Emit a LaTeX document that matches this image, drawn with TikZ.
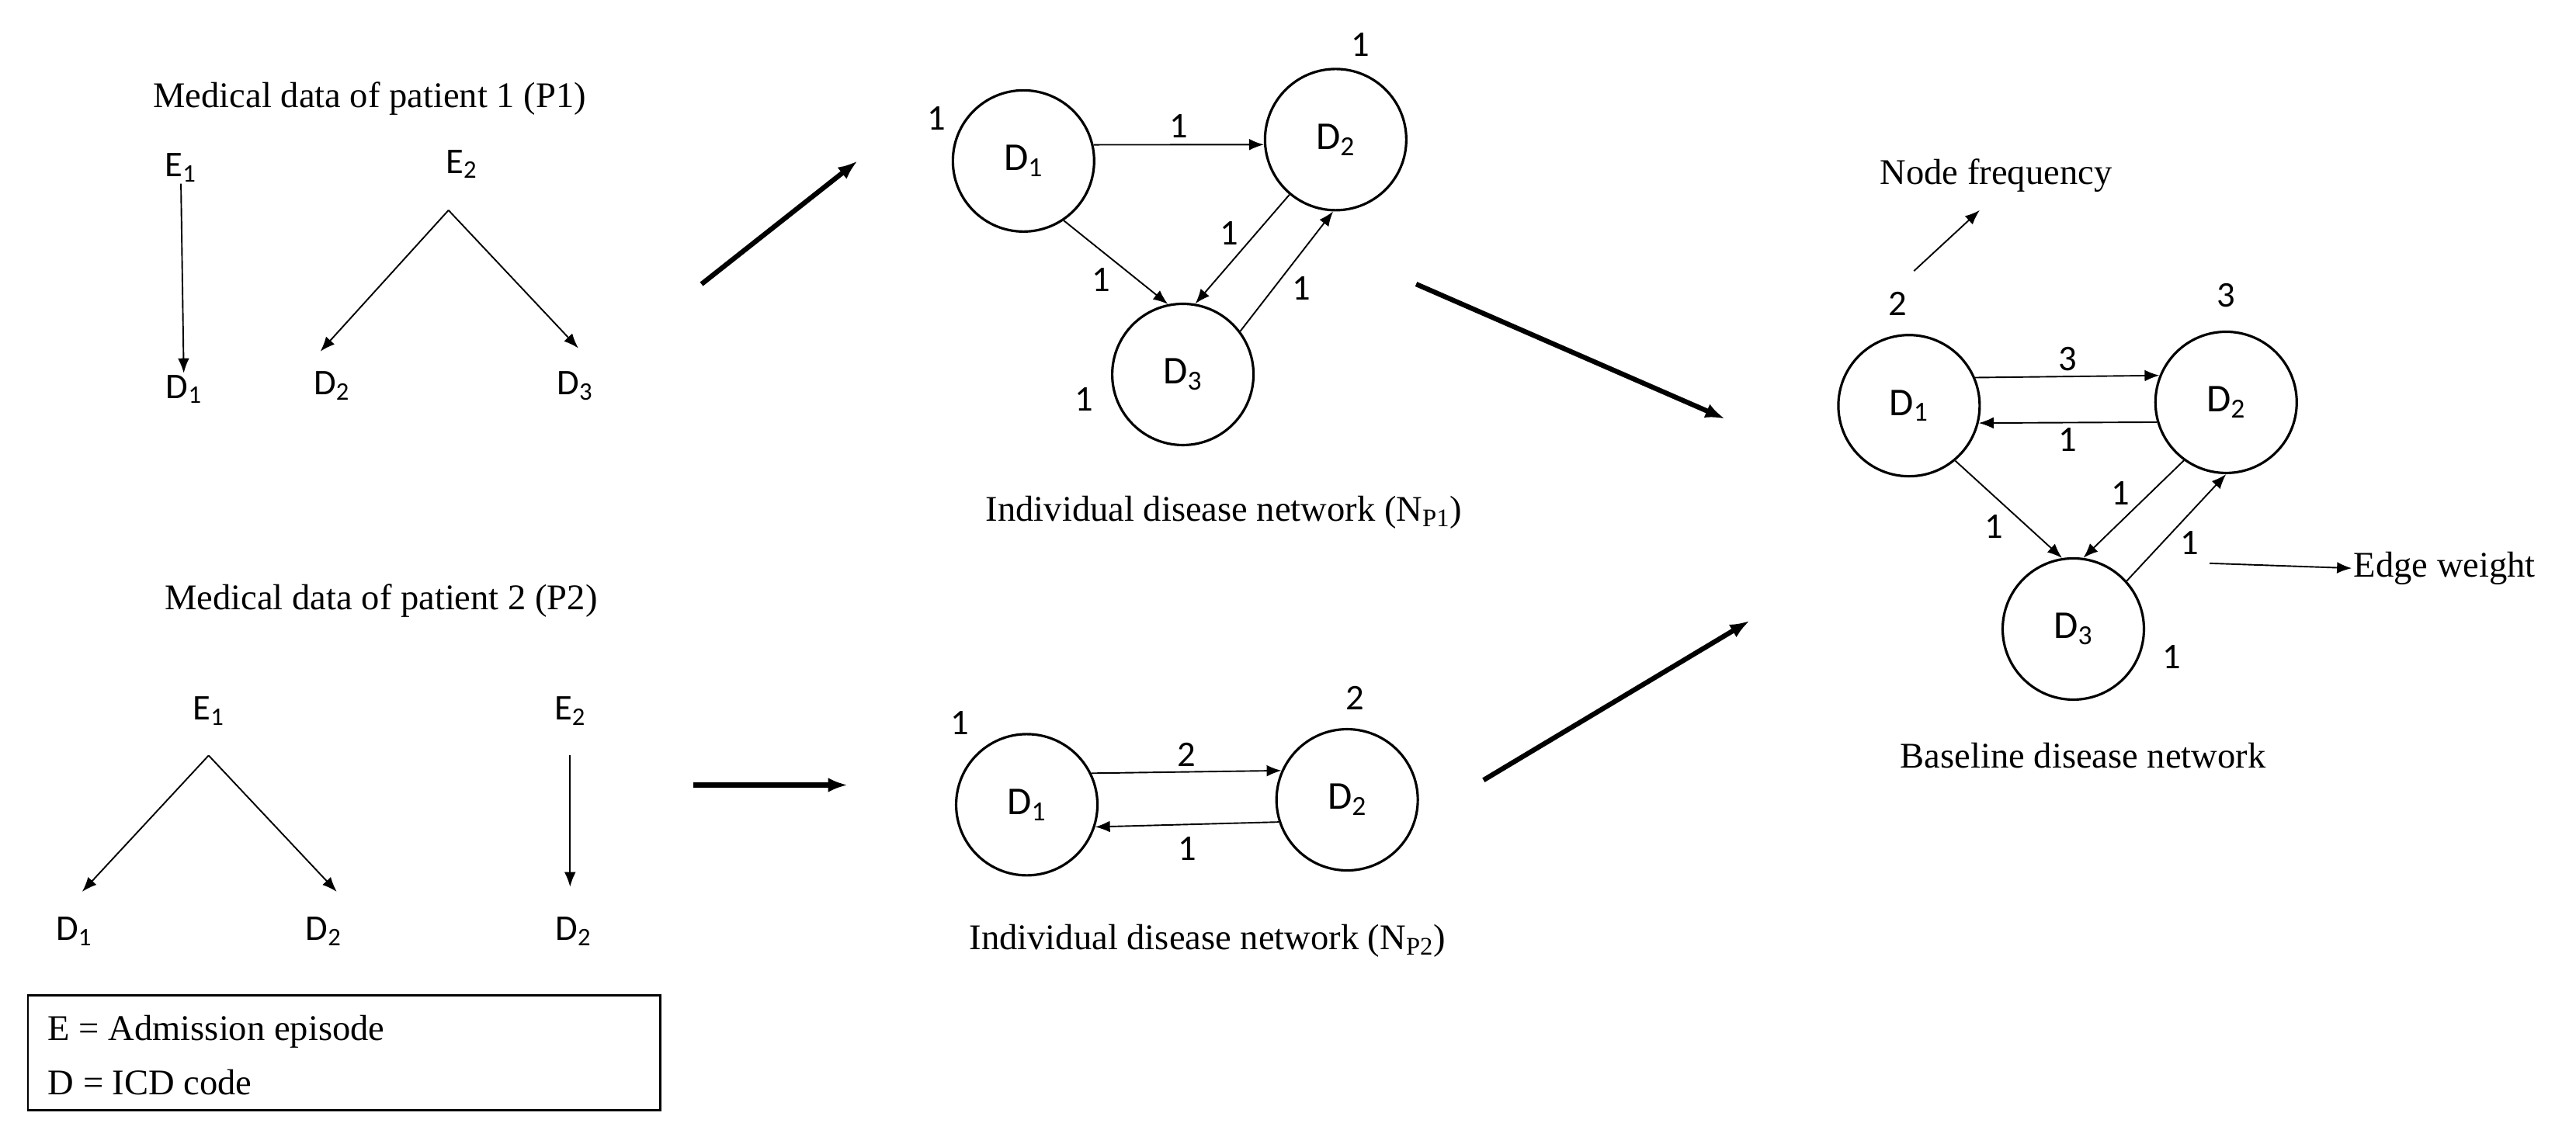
\documentclass[tikz,border=0pt]{standalone}
\usepackage{fontspec}
\setmainfont{Liberation Serif}
\newfontfamily\sansf{Carlito}
\usetikzlibrary{arrows.meta}
\tikzset{
  dis/.style={circle, draw=black, line width=1.5pt, minimum size=86pt, inner sep=0pt, font=\sansf\fontsize{24}{26}\selectfont},
  lbl/.style={font=\sansf\fontsize{22}{24}\selectfont, inner sep=1pt},
  ttl/.style={font=\fontsize{22}{24}\selectfont, inner sep=1pt},
  edg/.style={-{Latex[length=9pt,width=7pt]}, line width=0.9pt},
  big/.style={-{Latex[length=12pt,width=9pt]}, line width=3pt},
}
\begin{document}
\begin{tikzpicture}[x=1pt,y=-1pt]
	\useasboundingbox (0,0) rectangle (1568,688);
	% patient 1
	\node[ttl](t1) at (225,60){Medical data of patient 1 (P1)};
	\node[lbl](p1e1) at (110,102){E\textsubscript{1}};
	\node[lbl](p1d1) at (112,237){D\textsubscript{1}};
	\node[lbl](p1e2) at (281,100){E\textsubscript{2}};
	\coordinate(p1top) at (273,128);
	\node[lbl](p1d2) at (202,235){D\textsubscript{2}};
	\node[lbl](p1d3) at (350,235){D\textsubscript{3}};
	\draw[edg] (p1e1) -- (p1d1);
	\draw[edg] (p1top) -- (195,214);
	\draw[edg] (p1top) -- (352,212);
	% patient 2
	\node[ttl](t2) at (232,366){Medical data of patient 2 (P2)};
	\node[lbl](p2e1) at (127,433){E\textsubscript{1}};
	\coordinate(p2top) at (127,460);
	\node[lbl](p2d1) at (45,567){D\textsubscript{1}};
	\node[lbl](p2d2) at (197,567){D\textsubscript{2}};
	\node[lbl](p2e2) at (347,433){E\textsubscript{2}};
	\node[lbl](p2d3) at (349,567){D\textsubscript{2}};
	\draw[edg] (p2top) -- (50,543);
	\draw[edg] (p2top) -- (205,543);
	\draw[edg] (347,460) -- (347,540);
	% legend
	\node[draw=black, line width=1.2pt, minimum width=385pt, minimum height=70pt](leg) at (209.5,641){};
	\node[ttl, anchor=west](le) at (28,628){E = Admission episode};
	\node[ttl, anchor=west](ld) at (28,659){D = ICD code};
	% network of P1
	\node[dis](n1a) at (623,98){D\textsubscript{1}};
	\node[dis](n1b) at (813,85){D\textsubscript{2}};
	\node[dis](n1c) at (720,228){D\textsubscript{3}};
	\node[lbl] at (570,72){1};
	\node[lbl] at (828,27){1};
	\node[lbl] at (660,243){1};
	\draw[edg] (n1a.13) -- node[lbl, above=3pt]{1} (n1b.184);
	\draw[edg] (n1a.-56) -- node[lbl, below left=2pt]{1} (n1c.102);
	\draw[edg] (n1b.-130) -- node[lbl, above left=1pt]{1} (n1c.80);
	\draw[edg] (n1c.37) -- node[lbl, below right=2pt]{1} (n1b.-92);
	\node[ttl](t3) at (745,312){Individual disease network (N\textsubscript{P1})};
	% network of P2
	\node[dis](n2a) at (625,490){D\textsubscript{1}};
	\node[dis](n2b) at (820,487){D\textsubscript{2}};
	\node[lbl] at (584,440){1};
	\node[lbl] at (825,425){2};
	\draw[edg] (n2a.26) -- node[lbl, above=2pt]{2} (n2b.156);
	\draw[edg] (n2b.198) -- node[lbl, below=6pt]{1} (n2a.-18);
	\node[ttl](t4) at (735,573){Individual disease network (N\textsubscript{P2})};
	% baseline network
	\node[dis](b1) at (1162,247){D\textsubscript{1}};
	\node[dis](b2) at (1355,245){D\textsubscript{2}};
	\node[dis](b3) at (1262,383){D\textsubscript{3}};
	\node[lbl](fq) at (1155,185){2};
	\node[lbl] at (1355,180){3};
	\node[lbl] at (1322,400){1};
	\draw[edg] (b1.23) -- node[lbl, above=2pt]{3} (b2.158);
	\draw[edg] (b2.196) -- node[lbl, below=2pt]{1} (b1.-14);
	\draw[edg] (b1.-50) -- node[lbl, below left=2pt]{1} (b3.99);
	\draw[edg] (b2.-126) -- node[lbl, above left=1pt]{1} (b3.82);
	\draw[edg] (b3.42) -- node[lbl, below right=1pt](ew){1} (b2.-90);
	\node[ttl](nf) at (1215,107){Node frequency};
	\draw[edg] (1165,165) -- (1205,128);
	\node[ttl](ewt) at (1488,346){Edge weight};
	\draw[edg] (1345,343) -- (ewt.west);
	\node[ttl](t5) at (1268,460){Baseline disease network};
	% flow arrows
	\draw[big] (427,173) -- (n1a.west -| 522,173);
	\draw[big] (422,478) -- (516,478);
	\draw[big] (862,173) -- (1050,255);
	\draw[big] (903,475) -- (1065,378);
\end{tikzpicture}
\end{document}
